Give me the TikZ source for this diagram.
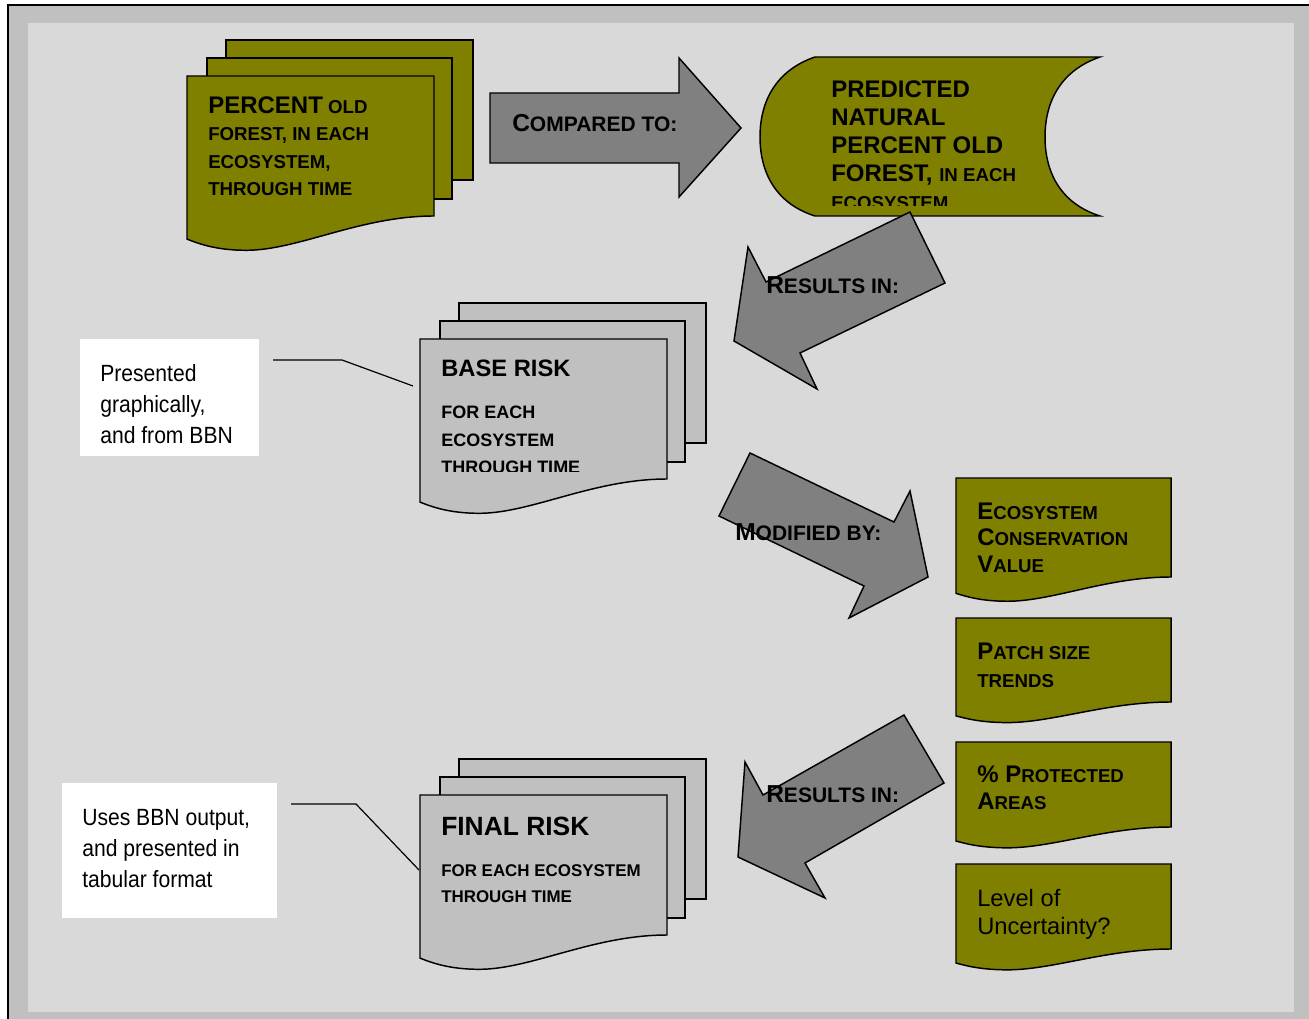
\documentclass[tikz,border=0pt]{standalone}
\usepackage{fontspec}
\setmainfont{Liberation Sans}
\newfontfamily\calloutfont[FakeStretch=0.9]{Liberation Sans}
\usetikzlibrary{arrows}
\definecolor{olivedoc}{HTML}{808000}
\definecolor{arrowgray}{HTML}{808080}
\definecolor{sheetgray}{HTML}{C0C0C0}
\definecolor{panelgray}{HTML}{D9D9D9}

\newcommand{\capl}[1]{{\fontsize{18}{20}\selectfont #1}}
\newcommand{\capm}[1]{{\fontsize{18.4}{20}\selectfont #1}}

\newcommand{\wavedoc}[5]{%
  \pgfmathsetmacro\docw{(#4)-(#2)}
  \pgfmathsetmacro\doch{(#5)-(#3)}
  \draw[#1] (#2,#3) -- (#4,#3) -- (#4,#5)
    .. controls ({#4-0.3*\docw},#5) and ({#2+0.45*\docw},{#5+0.245*\doch}) .. ({#2+0.24*\docw},{#5+0.245*\doch})
    .. controls ({#2+0.12*\docw},{#5+0.245*\doch}) and ({#2+0.05*\docw},{#5+0.2*\doch}) .. (#2,{#5+0.165*\doch}) -- cycle;}

\begin{document}
\begin{tikzpicture}[x=0.75pt,y=-0.75pt,
  sheet/.style={draw=black,line width=1.1pt},
  bigarrow/.style={draw=black,line width=1.1pt,fill=arrowgray},
  lbl/.style={anchor=base west,inner sep=0pt,align=left,font=\bfseries\fontsize{14}{20.5}\selectfont},
  arrowlbl/.style={anchor=base west,inner sep=0pt,font=\bfseries\fontsize{15.75}{18}\selectfont},
  note/.style={anchor=base west,inner sep=0pt,align=left,font=\calloutfont\fontsize{17.6}{22.9}\selectfont},
  callline/.style={draw=black,line width=0.9pt}]
\useasboundingbox (0,0) rectangle (1309,1019);
\fill[white] (0,0) rectangle (1309,1019);
\fill[sheetgray] (8,5) rectangle (1309,1019);
\fill[panelgray] (28,23) rectangle (1294,1012);
\draw[line width=1.5pt] (8,1019) -- (8,5) -- (1309,5);

\foreach \sx/\sy/\fc in {226/40/olivedoc, 459/303/sheetgray, 459/759/sheetgray} {
  \draw[sheet,fill=\fc] (\sx,\sy) rectangle ++(247,140);
  \draw[sheet,fill=\fc] (\sx-19,\sy+18) rectangle ++(245,141);
  \wavedoc{sheet,fill=\fc}{\sx-39}{\sy+36}{\sx+208}{\sy+176}
}

\foreach \ty/\by in {478/577, 618/702, 742/827, 864/949} {
  \wavedoc{sheet,fill=olivedoc}{956}{\ty}{1171}{\by}
}

\draw[sheet,fill=olivedoc] (815,57) -- (1100,57)
  .. controls (1062,70) and (1045,100) .. (1045,137)
  .. controls (1045,174) and (1062,204) .. (1100,216) -- (815,216)
  .. controls (777,204) and (760,174) .. (760,137)
  .. controls (760,100) and (777,70) .. (815,57) -- cycle;

\draw[bigarrow] (490,93) -- (679,93) -- (679,58) -- (741,128) -- (679,197) -- (679,163) -- (490,163) -- cycle;
\draw[bigarrow] (910,212) -- (945,283) -- (800,353) -- (817,389) -- (734,341) -- (748,247) -- (766,282) -- cycle;
\draw[bigarrow] (750,453) -- (894,522) -- (910,491) -- (928,577) -- (849,618) -- (864,586) -- (719,516) -- cycle;
\draw[bigarrow] (904,715) -- (944,783) -- (805,863) -- (825,898) -- (738,857) -- (745,762) -- (763,795) -- cycle;

\node[lbl] (pctold) at (208,195.5) {\capl{PERCENT} OLD\\FOREST, IN EACH\\ECOSYSTEM,\\THROUGH TIME};
\begin{scope}
  \clip (820,60) rectangle (1040,205.5);
  \node[lbl,font=\bfseries\fontsize{18}{21}\selectfont] (natural) at (831,209.5)
    {PREDICTED\\NATURAL\\PERCENT OLD\\FOREST, {\fontsize{14}{21}\selectfont IN EACH}\\{\fontsize{14}{21}\selectfont ECOSYSTEM}};
\end{scope}

\node[arrowlbl] (compared) at (512,132) {\capm{C}OMPARED TO:};
\node[arrowlbl] (resultsA) at (766,294) {\capm{R}ESULTS IN:};
\node[arrowlbl] (modified) at (735,540) {\capm{M}ODIFIED BY:};
\node[arrowlbl] (resultsB) at (766,802) {\capm{R}ESULTS IN:};

\node[lbl,font=\bfseries\fontsize{17.8}{20}\selectfont] (baseT) at (441,376.5) {BASE RISK};
\begin{scope}
  \clip (430,400) rectangle (660,471.5);
  \node[lbl,font=\bfseries\fontsize{13.5}{20.25}\selectfont] (baseB) at (441,473) {FOR EACH\\ECOSYSTEM\\THROUGH TIME};
\end{scope}
\node[lbl,font=\bfseries\fontsize{19.8}{22}\selectfont] (finalT) at (441,835.5) {FINAL RISK};
\node[lbl,font=\bfseries\fontsize{12.7}{19.5}\selectfont] (finalB) at (441,902) {FOR EACH ECOSYSTEM\\THROUGH TIME};

\node[lbl,font=\bfseries\fontsize{14}{19.9}\selectfont] (ecoval) at (977,572.5) {\capl{E}COSYSTEM\\\capl{C}ONSERVATION\\\capl{V}ALUE};
\node[lbl,font=\bfseries\fontsize{14}{21}\selectfont] (patch) at (977,687) {\capl{P}ATCH SIZE\\TRENDS};
\node[lbl,font=\bfseries\fontsize{14}{20.25}\selectfont] (protect) at (977,809) {\capl{\% P}ROTECTED\\\capl{A}REAS};
\node[lbl,font=\fontsize{17.8}{21}\selectfont] (uncert) at (977,934) {Level of\\Uncertainty?};

\fill[white] (80,339) rectangle (259,456);
\fill[white] (62,783) rectangle (277,918);
\node[note] (noteA) at (100,443) {Presented\\graphically,\\and from BBN};
\node[note] (noteB) at (82,887) {Uses BBN output,\\and presented in\\tabular format};

\coordinate (callA) at (273,360);
\coordinate (baseL) at (413,386);
\coordinate (callB) at (291,804);
\coordinate (finalL) at (419,870);
\draw[callline] (callA) -- ++(69,0) -- (baseL);
\draw[callline] (callB) -- ++(65,0) -- (finalL);
\end{tikzpicture}
\end{document}
